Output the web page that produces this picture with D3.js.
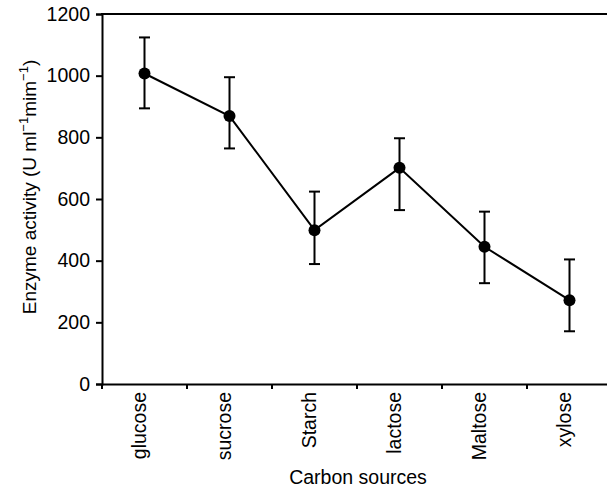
<!DOCTYPE html>
<html>
<head>
<meta charset="utf-8">
<script src="https://cdn.jsdelivr.net/npm/d3@7"></script>
<style>
  body { margin: 0; background: #fff; }
  svg { display: block; font-family: "Liberation Sans", Arial, sans-serif; }
</style>
</head>
<body>
<svg width="607" height="489"></svg>
<script>
var sources = ["glucose", "sucrose", "Starch", "lactose", "Maltose", "xylose"];
var activity = [1007, 869, 499, 701, 445, 272];
var errLow = [894, 764, 389, 564, 327, 171];
var errHigh = [1124, 995, 624, 797, 559, 404];
var yTicks = [0, 200, 400, 600, 800, 1000, 1200];

var svg = d3.select("svg");
var mLeft = 102, mRight = 612, mTop = 14, mBottom = 384;

var x = d3.scaleBand().domain(sources).range([mLeft, mRight]);
var y = d3.scaleLinear().domain([0, 1200]).range([mBottom, mTop]);

// y axis
var ya = svg.append("g")
    .attr("transform", "translate(" + mLeft + ",0)")
    .call(d3.axisLeft(y).tickValues(yTicks).tickFormat(d3.format("d")).tickSize(6).tickPadding(6));
ya.select(".domain").attr("stroke-width", 2);
ya.selectAll(".tick line").attr("stroke-width", 2);
ya.selectAll("text").style("font-size", "19.5px").attr("fill", "#000");

// x axis, ticks on the band edges
var xa = svg.append("g")
    .attr("transform", "translate(0," + mBottom + ")")
    .call(d3.axisBottom(x).tickSize(0));
xa.select(".domain").attr("stroke-width", 2);
xa.selectAll("text")
    .style("font-size", "19.5px")
    .attr("fill", "#000")
    .attr("transform", "rotate(-90)")
    .attr("text-anchor", "end")
    .attr("x", -8)
    .attr("y", 0)
    .attr("dy", "0.1em");
svg.append("g").selectAll("line")
    .data(sources)
    .join("line")
    .attr("x1", d => x(d)).attr("x2", d => x(d))
    .attr("y1", mBottom).attr("y2", mBottom + 5)
    .attr("stroke", "#000").attr("stroke-width", 2);

// top border
svg.append("line")
    .attr("x1", mLeft - 1).attr("x2", 607)
    .attr("y1", mTop).attr("y2", mTop)
    .attr("stroke", "#000").attr("stroke-width", 2);

var cx = d => x(d) + x.bandwidth() / 2;

// line
svg.append("path")
    .datum(sources.map((s, i) => [cx(s), y(activity[i])]))
    .attr("fill", "none")
    .attr("stroke", "#000")
    .attr("stroke-width", 2)
    .attr("d", d3.line());

// error bars
var eb = svg.append("g").selectAll("g")
    .data(sources)
    .join("g");
eb.append("line")
    .attr("x1", cx).attr("x2", cx)
    .attr("y1", (d, i) => y(errLow[i])).attr("y2", (d, i) => y(errHigh[i]))
    .attr("stroke", "#000").attr("stroke-width", 2);
eb.append("line")
    .attr("x1", d => cx(d) - 5.5).attr("x2", d => cx(d) + 5.5)
    .attr("y1", (d, i) => y(errHigh[i])).attr("y2", (d, i) => y(errHigh[i]))
    .attr("stroke", "#000").attr("stroke-width", 2);
eb.append("line")
    .attr("x1", d => cx(d) - 5.5).attr("x2", d => cx(d) + 5.5)
    .attr("y1", (d, i) => y(errLow[i])).attr("y2", (d, i) => y(errLow[i]))
    .attr("stroke", "#000").attr("stroke-width", 2);

// points
svg.append("g").selectAll("circle")
    .data(sources)
    .join("circle")
    .attr("cx", cx)
    .attr("cy", (d, i) => y(activity[i]))
    .attr("r", 6)
    .attr("fill", "#000");

// axis titles
svg.append("text")
    .attr("x", 358).attr("y", 484)
    .attr("text-anchor", "middle")
    .style("font-size", "19.5px")
    .text("Carbon sources");

var yt = svg.append("text")
    .attr("transform", "translate(36,187) rotate(-90)")
    .attr("text-anchor", "middle")
    .style("font-size", "19px");
yt.append("tspan").text("Enzyme activity (U ml");
yt.append("tspan").text("\u22121").attr("dy", -8).style("font-size", "13px");
yt.append("tspan").text("mim").attr("dy", 8);
yt.append("tspan").text("\u22121").attr("dy", -8).style("font-size", "13px");
yt.append("tspan").text(")").attr("dy", 8);
</script>
</body>
</html>
